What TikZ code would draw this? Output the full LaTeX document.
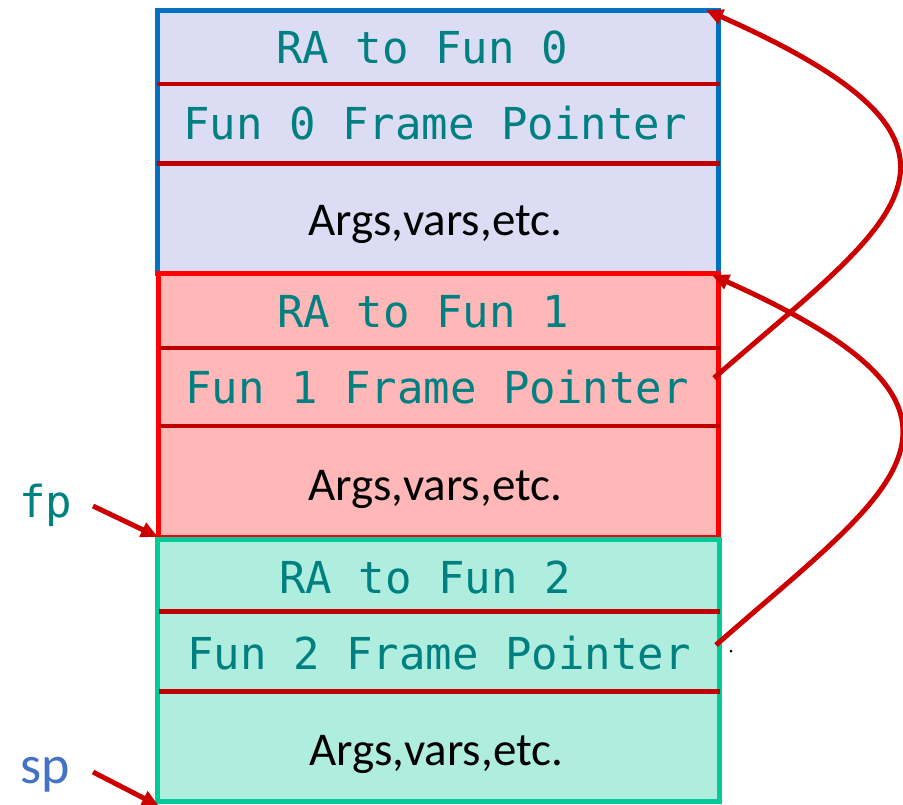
\documentclass[tikz,border=0pt]{standalone}
\usepackage{fontspec}
\setmainfont{Carlito}
\newfontfamily\monof{DejaVu Sans Mono}
\usetikzlibrary{arrows.meta}
\definecolor{lav}{RGB}{220,220,244}
\definecolor{pinkf}{RGB}{255,183,183}
\definecolor{mint}{RGB}{175,237,222}
\definecolor{blueb}{RGB}{0,112,192}
\definecolor{redb}{RGB}{255,0,0}
\definecolor{tealb}{RGB}{0,204,153}
\definecolor{sepc}{RGB}{192,0,0}
\definecolor{arrc}{RGB}{204,0,0}
\definecolor{txtc}{RGB}{0,128,128}
\definecolor{spc}{RGB}{68,114,196}
\tikzset{
  framebox/.style={rectangle, inner sep=0pt, outer sep=0pt, line width=5pt},
  seprule/.style={draw=sepc, line width=4.5pt},
  monotext/.style={font=\monof\fontsize{44}{44}\selectfont, text=txtc, inner sep=0pt, anchor=base},
  argtext/.style={font=\fontsize{47}{47}\selectfont, text=black, inner sep=0pt, anchor=base},
  conn/.style={draw=arrc, line width=5pt, -{Triangle[length=17pt,width=15pt]}},
}
\begin{document}
\begin{tikzpicture}[x=1pt,y=-1pt]
\useasboundingbox (0,0) rectangle (903,804);
% frames
\node[framebox, fill=lav, draw=blueb, minimum width=561pt, minimum height=263pt] (f0) at (437.5,141.5) {};
\node[framebox, fill=pinkf, draw=redb, minimum width=560pt, minimum height=264pt] (f1) at (438.5,405) {};
\node[framebox, fill=mint, draw=tealb, minimum width=561.5pt, minimum height=262pt] (f2) at (438.25,670.5) {};
% separators
\draw[seprule] (157,84) -- (720,84);
\draw[seprule] (157,163.5) -- (720,163.5);
\draw[seprule] (159,348) -- (720,348);
\draw[seprule] (159,426) -- (720,426);
\draw[seprule] (159,611.5) -- (720,611.5);
\draw[seprule] (159,691.5) -- (720,691.5);
% texts
\node[monotext] (ra0) at (422,63) {RA to Fun 0};
\node[monotext] (fpn0) at (435,139) {Fun 0 Frame Pointer};
\node[argtext] (args0) at (435,235) {Args,vars,etc.};
\node[monotext] (ra1) at (423,327) {RA to Fun 1};
\node[monotext] (fpn1) at (437,403) {Fun 1 Frame Pointer};
\node[argtext] (args1) at (435,500) {Args,vars,etc.};
\node[monotext] (ra2) at (425,593) {RA to Fun 2};
\node[monotext] (fpn2) at (439,669) {Fun 2 Frame Pointer};
\node[argtext] (args2) at (436,765) {Args,vars,etc.};
% labels
\node[monotext] (fpl) at (46,517) {fp};
\node[font=\fontsize{54}{54}\selectfont, text=spc, inner sep=0pt, anchor=base] (spl) at (45,783) {sp};
% connectors
\coordinate (s1) at (714,378);
\coordinate (t1) at (706,10);
\coordinate (s2) at (716,645);
\coordinate (t2) at (712,275);
\draw[conn] (s1) .. controls (892,222) and (1022,150) .. (t1);
\draw[conn] (s2) .. controls (893,489) and (1024,415) .. (t2);
\coordinate (fpa) at (93,506);
\coordinate (fpt) at (158,537);
\coordinate (spa) at (93,772);
\coordinate (spt) at (159,806);
\draw[conn] (fpa) -- (fpt);
\draw[conn] (spa) -- (spt);
\fill (731,651) circle (1.5);
\end{tikzpicture}
\end{document}
